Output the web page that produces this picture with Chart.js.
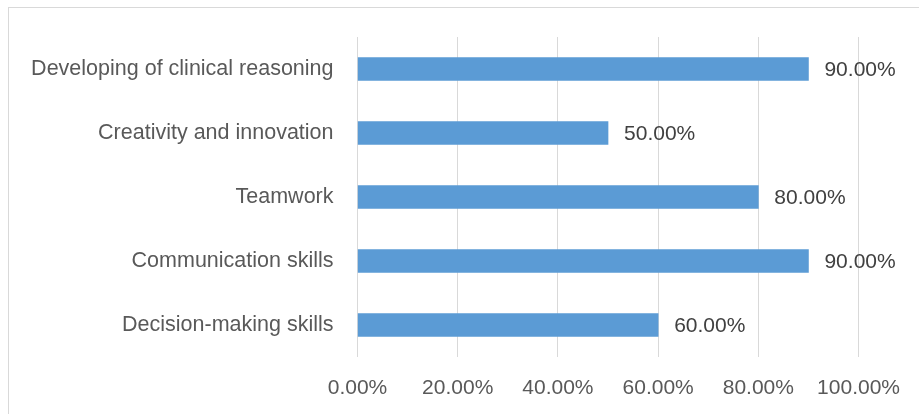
<!DOCTYPE html>
<html>
<head>
<meta charset="utf-8">
<script src="https://cdn.jsdelivr.net/npm/chart.js@4/dist/chart.umd.min.js"></script>
<style>
  html, body { margin: 0; padding: 0; background: #fff; }
  #wrap { position: relative; width: 919px; height: 414px; }
</style>
</head>
<body>
<div id="wrap"><canvas id="skillsChart" width="919" height="414"></canvas></div>
<script>
const skills = [
  "Developing of clinical reasoning",
  "Creativity and innovation",
  "Teamwork",
  "Communication skills",
  "Decision-making skills"
];
const percentages = [90, 50, 80, 90, 60];
const axisTicks = [0, 20, 40, 60, 80, 100];

const FONT = "'Liberation Sans', Arial, sans-serif";
const pct = v => Number(v).toFixed(2) + "%";

// chart frame, like the box around an office chart
const framePlugin = {
  id: "frame",
  beforeDraw(chart) {
    const ctx = chart.ctx;
    ctx.save();
    ctx.strokeStyle = "#d9d9d9";
    ctx.lineWidth = 1;
    ctx.strokeRect(8.5, 7.5, 930, 430);
    ctx.restore();
  }
};

// value text at the end of each bar
const barLabels = {
  id: "barLabels",
  afterDatasetsDraw(chart) {
    const ctx = chart.ctx;
    const meta = chart.getDatasetMeta(0);
    ctx.save();
    ctx.font = "21px " + FONT;
    ctx.fillStyle = "#404040";
    ctx.textAlign = "left";
    ctx.textBaseline = "middle";
    meta.data.forEach((bar, i) => {
      ctx.fillText(pct(percentages[i]), bar.x + 16, bar.y + 1);
    });
    ctx.restore();
  }
};

let canvasElement = document.querySelector("#skillsChart");

let config = {
  type: "bar",
  data: {
    labels: skills,
    datasets: [{
      data: percentages,
      backgroundColor: "#5b9bd5",
      borderWidth: 0,
      barThickness: 23
    }]
  },
  options: {
    indexAxis: "y",
    responsive: false,
    animation: false,
    layout: { padding: { top: 37, right: 59, left: 0, bottom: 0 } },
    plugins: { legend: { display: false }, tooltip: { enabled: false } },
    scales: {
      x: {
        min: 0,
        max: 100,
        afterBuildTicks: s => { s.ticks = axisTicks.map(v => ({ value: v })); },
        afterFit: s => { s.height = 414 - 357; },
        grid: { color: "#d9d9d9", lineWidth: 1, drawTicks: false },
        border: { display: false },
        ticks: {
          padding: 19,
          color: "#595959",
          font: { family: FONT, size: 21 },
          callback: v => pct(v)
        }
      },
      y: {
        afterFit: s => { s.width = 357.5; },
        grid: { display: false, drawTicks: false },
        border: { display: false },
        ticks: {
          padding: 24,
          color: "#595959",
          font: { family: FONT, size: 21.5 }
        }
      }
    }
  },
  plugins: [framePlugin, barLabels]
};

let skillsChart = new Chart(canvasElement, config);
</script>
</body>
</html>
